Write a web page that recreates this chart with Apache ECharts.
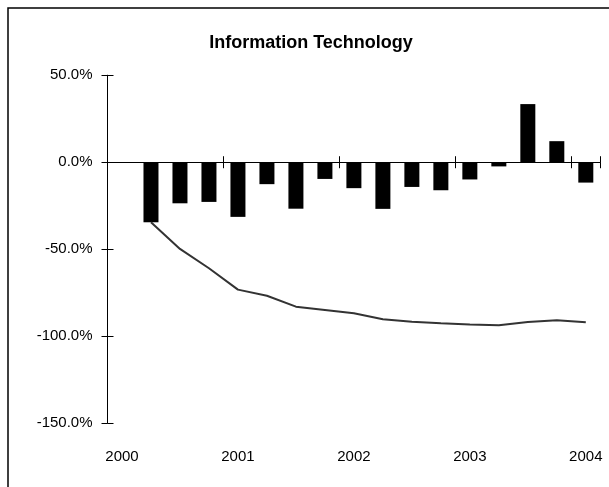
<!DOCTYPE html>
<html>
<head>
<meta charset="utf-8">
<script src="https://cdn.jsdelivr.net/npm/echarts@6/dist/echarts.min.js"></script>
<style>
html,body{margin:0;padding:0;background:#fff;}
#chart{width:609px;height:487px;}
</style>
</head>
<body>
<div id="chart"></div>
<script>
// Quarterly categories (2000 Q1 .. 2004 Q1)
const quarters = ['2000 Q1','2000 Q2','2000 Q3','2000 Q4',
                  '2001 Q1','2001 Q2','2001 Q3','2001 Q4',
                  '2002 Q1','2002 Q2','2002 Q3','2002 Q4',
                  '2003 Q1','2003 Q2','2003 Q3','2003 Q4',
                  '2004 Q1'];
// Quarterly returns (%) - bars
const quarterlyReturn = [null, -34.5, -23.6, -22.8, -31.4, -12.6, -26.7, -9.6, -14.9,
                         -26.8, -14.2, -16.1, -9.9, -2.4, 33.4, 12.1, -11.7];
// Cumulative return (%) - line
const cumulativeReturn = [null, -34.5, -49.8, -60.9, -73.2, -76.7, -83.0, -84.9, -86.8,
                          -90.2, -91.6, -92.5, -93.3, -93.7, -91.8, -90.8, -92.0];
// Y axis range / ticks
const yMin = -150, yMax = 50, yStep = 50;
const titleText = 'Information Technology';

const font = "'Liberation Sans', Arial, sans-serif";
const gridRect = {left: 107.5, right: 8.7, top: 75.2, bottom: 63.7};

const chart = echarts.init(document.getElementById('chart'), null, {renderer: 'canvas'});
chart.setOption({
  animation: false,
  backgroundColor: '#fff',
  title: {
    text: titleText,
    left: 306, top: 29, textAlign: 'center',
    textStyle: {fontFamily: font, fontWeight: 'bold', fontSize: 18, color: '#000'}
  },
  graphic: [{
    type: 'rect', x: 8, y: 8, silent: true,
    shape: {x: 0, y: 0, width: 640, height: 520},
    style: {fill: 'none', stroke: '#000', lineWidth: 1.5}
  }],
  grid: [
    Object.assign({}, gridRect),
    Object.assign({}, gridRect)
  ],
  xAxis: [
    { // labels at bottom
      type: 'category', gridIndex: 0, data: quarters, position: 'bottom',
      axisLine: {show: false, onZero: false}, axisTick: {show: false},
      axisLabel: {interval: 3, margin: 26, fontFamily: font, fontSize: 15, color: '#000',
                  formatter: v => v.slice(0, 4)},
      splitLine: {show: false}
    },
    { // zero line with upward ticks
      type: 'category', gridIndex: 0, data: quarters, position: 'top',
      axisLine: {show: true, onZero: true, lineStyle: {color: '#000', width: 1}},
      axisTick: {show: true, interval: 3, inside: false, length: 6, lineStyle: {color: '#000'}},
      axisLabel: {show: false}, splitLine: {show: false}
    },
    { // downward ticks on zero line
      type: 'category', gridIndex: 1, data: quarters, position: 'bottom',
      axisLine: {show: false, onZero: true},
      axisTick: {show: true, interval: 3, inside: false, length: 6, lineStyle: {color: '#000'}},
      axisLabel: {show: false}, splitLine: {show: false}
    }
  ],
  yAxis: [
    {
      type: 'value', gridIndex: 0, min: yMin, max: yMax, interval: yStep,
      axisLine: {show: true, lineStyle: {color: '#000', width: 1}},
      axisTick: {show: true, inside: false, length: 6, lineStyle: {color: '#000'}},
      axisLabel: {margin: 15, fontFamily: font, fontSize: 15, color: '#000',
                  formatter: v => v.toFixed(1) + '%'},
      splitLine: {show: false}
    },
    {
      type: 'value', gridIndex: 1, min: yMin, max: yMax, interval: yStep,
      axisLine: {show: false},
      axisTick: {show: true, inside: true, length: 6, lineStyle: {color: '#000'}},
      axisLabel: {show: false}, splitLine: {show: false}
    }
  ],
  series: [
    {
      type: 'bar', name: 'Quarterly', xAxisIndex: 0, yAxisIndex: 0,
      data: quarterlyReturn, barWidth: 15,
      itemStyle: {color: '#000'}
    },
    {
      type: 'line', name: 'Cumulative', xAxisIndex: 0, yAxisIndex: 0,
      data: cumulativeReturn, symbol: 'none', smooth: false,
      lineStyle: {color: '#333', width: 2}
    }
  ]
});
</script>
</body>
</html>
